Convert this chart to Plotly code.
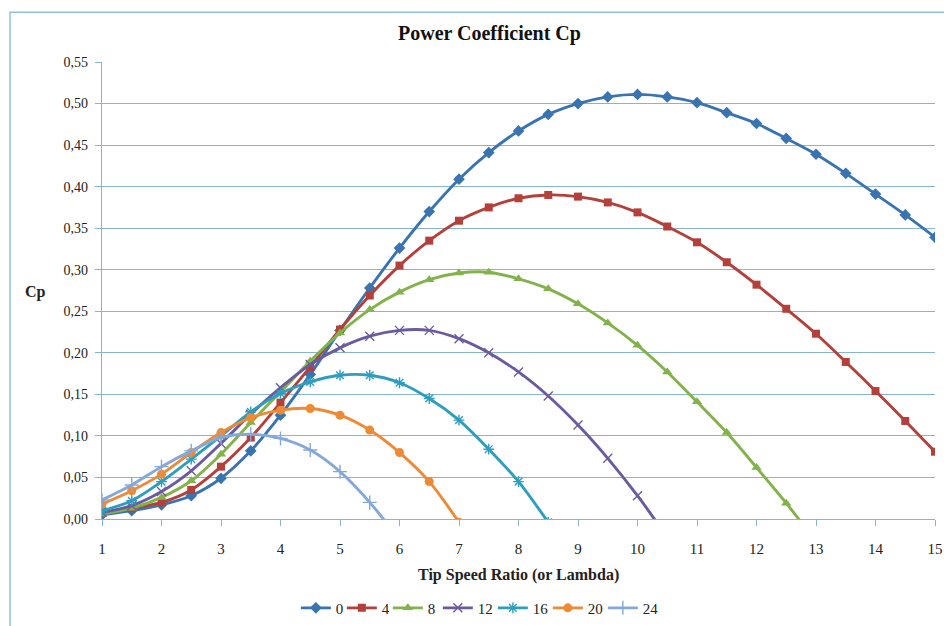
import plotly.graph_objects as go

lam = [1, 1.5, 2, 2.5, 3, 3.5, 4, 4.5, 5, 5.5, 6, 6.5, 7, 7.5, 8, 8.5, 9, 9.5, 10,
       10.5, 11, 11.5, 12, 12.5, 13, 13.5, 14, 14.5, 15]

cp_0 = [0.005, 0.010, 0.017, 0.028, 0.049, 0.082, 0.125, 0.174, 0.227, 0.278, 0.326, 0.370,
        0.409, 0.441, 0.467, 0.487, 0.500, 0.508, 0.511, 0.508, 0.501, 0.489, 0.476, 0.458,
        0.439, 0.416, 0.391, 0.366, 0.339]
cp_4 = [0.008, 0.013, 0.020, 0.035, 0.063, 0.098, 0.140, 0.183, 0.228, 0.269, 0.305, 0.335,
        0.359, 0.375, 0.386, 0.390, 0.388, 0.381, 0.369, 0.352, 0.333, 0.309, 0.282, 0.253,
        0.223, 0.189, 0.154, 0.118, 0.081]
cp_8 = [0.006, 0.013, 0.026, 0.046, 0.078, 0.116, 0.153, 0.190, 0.224, 0.252, 0.273, 0.288,
        0.296, 0.297, 0.289, 0.277, 0.259, 0.236, 0.209, 0.177, 0.141, 0.104, 0.062, 0.019,
        -0.027]
cp_12 = [0.008, 0.016, 0.033, 0.058, 0.091, 0.126, 0.158, 0.186, 0.206, 0.220, 0.227, 0.227,
         0.217, 0.200, 0.177, 0.148, 0.113, 0.073, 0.028, -0.022]
cp_16 = [0.010, 0.022, 0.045, 0.072, 0.100, 0.129, 0.151, 0.165, 0.173, 0.173, 0.164, 0.145,
         0.119, 0.084, 0.045, -0.004]
cp_20 = [0.018, 0.034, 0.054, 0.080, 0.104, 0.122, 0.131, 0.133, 0.125, 0.107, 0.080, 0.045,
         -0.004]
cp_24 = [0.023, 0.041, 0.063, 0.082, 0.098, 0.102, 0.097, 0.083, 0.057, 0.020, -0.025]

series_names = ["0", "4", "8", "12", "16", "20", "24"]
series_values = [cp_0, cp_4, cp_8, cp_12, cp_16, cp_20, cp_24]

styles = [
    ("#3A74B0", "diamond", 9, 1),
    ("#B3403B", "square", 8, 1),
    ("#82B24A", "triangle-up", 9, 5),
    ("#6B5B9E", "x-thin-open", 9, 10),
    ("#2E9EBE", "asterisk-open", 9, 10),
    ("#EE8A36", "circle", 9, 10),
    ("#84A9D8", "cross-thin-open", 10, 10),
]

y_ticks = [0, 0.05, 0.10, 0.15, 0.20, 0.25, 0.30, 0.35, 0.40, 0.45, 0.50, 0.55]
x_ticks = list(range(1, 16))

grid = "#86B5CD"
font_family = "Liberation Serif, DejaVu Serif, serif"

fig = go.Figure()
for name, vals, (color, sym, size, lw) in zip(series_names, series_values, styles):
    thin = sym.endswith("-open")
    fig.add_trace(go.Scatter(
        x=lam[:len(vals)], y=vals, name=name, mode="lines+markers",
        line=dict(color=color, width=2.9, shape="spline", smoothing=0.9),
        marker=dict(symbol=sym, size=size, color=color,
                    line=dict(color=color, width=1.4 if thin else 0)),
        legendwidth=lw,
    ))

fig.update_layout(
    width=944, height=626,
    margin=dict(l=102, r=9, t=62, b=107, autoexpand=False),
    paper_bgcolor="white", plot_bgcolor="white",
    separators=", ",
    font=dict(family=font_family, size=14, color="#222222"),
    showlegend=True,
    legend=dict(orientation="h", x=0.45, xanchor="center", y=-0.195, yanchor="middle",
                font=dict(size=15, color="#222222"), itemwidth=30, tracegroupgap=0),
    annotations=[
        dict(text="<b>Power Coefficient Cp</b>", xref="paper", yref="paper",
             x=0.465, y=1.063, xanchor="center", yanchor="middle", showarrow=False,
             font=dict(size=20, family=font_family, color="#111111")),
        dict(text="<b>Cp</b>", xref="paper", yref="paper",
             x=-0.08, y=0.497, xanchor="center", yanchor="middle", showarrow=False,
             font=dict(size=16, family=font_family, color="#222222")),
        dict(text="<b>Tip Speed Ratio (or Lambda)</b>", xref="paper", yref="paper",
             x=0.5, y=-0.122, xanchor="center", yanchor="middle", showarrow=False,
             font=dict(size=16, family=font_family, color="#222222")),
    ],
    shapes=[
        dict(type="rect", xref="paper", yref="paper", x0=-0.1104, x1=1.05, y0=-0.35, y1=1.109,
             line=dict(color="#8FC1DA", width=1.5), layer="below"),
    ],
)

fig.update_xaxes(range=[1, 15], tickvals=x_ticks, ticktext=[str(t) for t in x_ticks],
                 showgrid=False, zeroline=False, showline=True, linecolor=grid, linewidth=1.2,
                 ticks="outside", ticklen=6, tickcolor=grid, tickfont=dict(size=15),
                 ticklabelstandoff=10, automargin=False)
fig.update_yaxes(range=[0, 0.55], tickvals=y_ticks, tickformat=".2f",
                 showgrid=True, gridcolor=grid, gridwidth=1.2, zeroline=False,
                 showline=True, linecolor=grid, linewidth=1.2,
                 ticks="outside", ticklen=6, tickcolor=grid, tickfont=dict(size=14),
                 ticklabelstandoff=4, automargin=False)

fig.write_html("out.html", config={"displayModeBar": False},
               post_script="document.body.style.margin='0';document.body.style.overflow='hidden';")
